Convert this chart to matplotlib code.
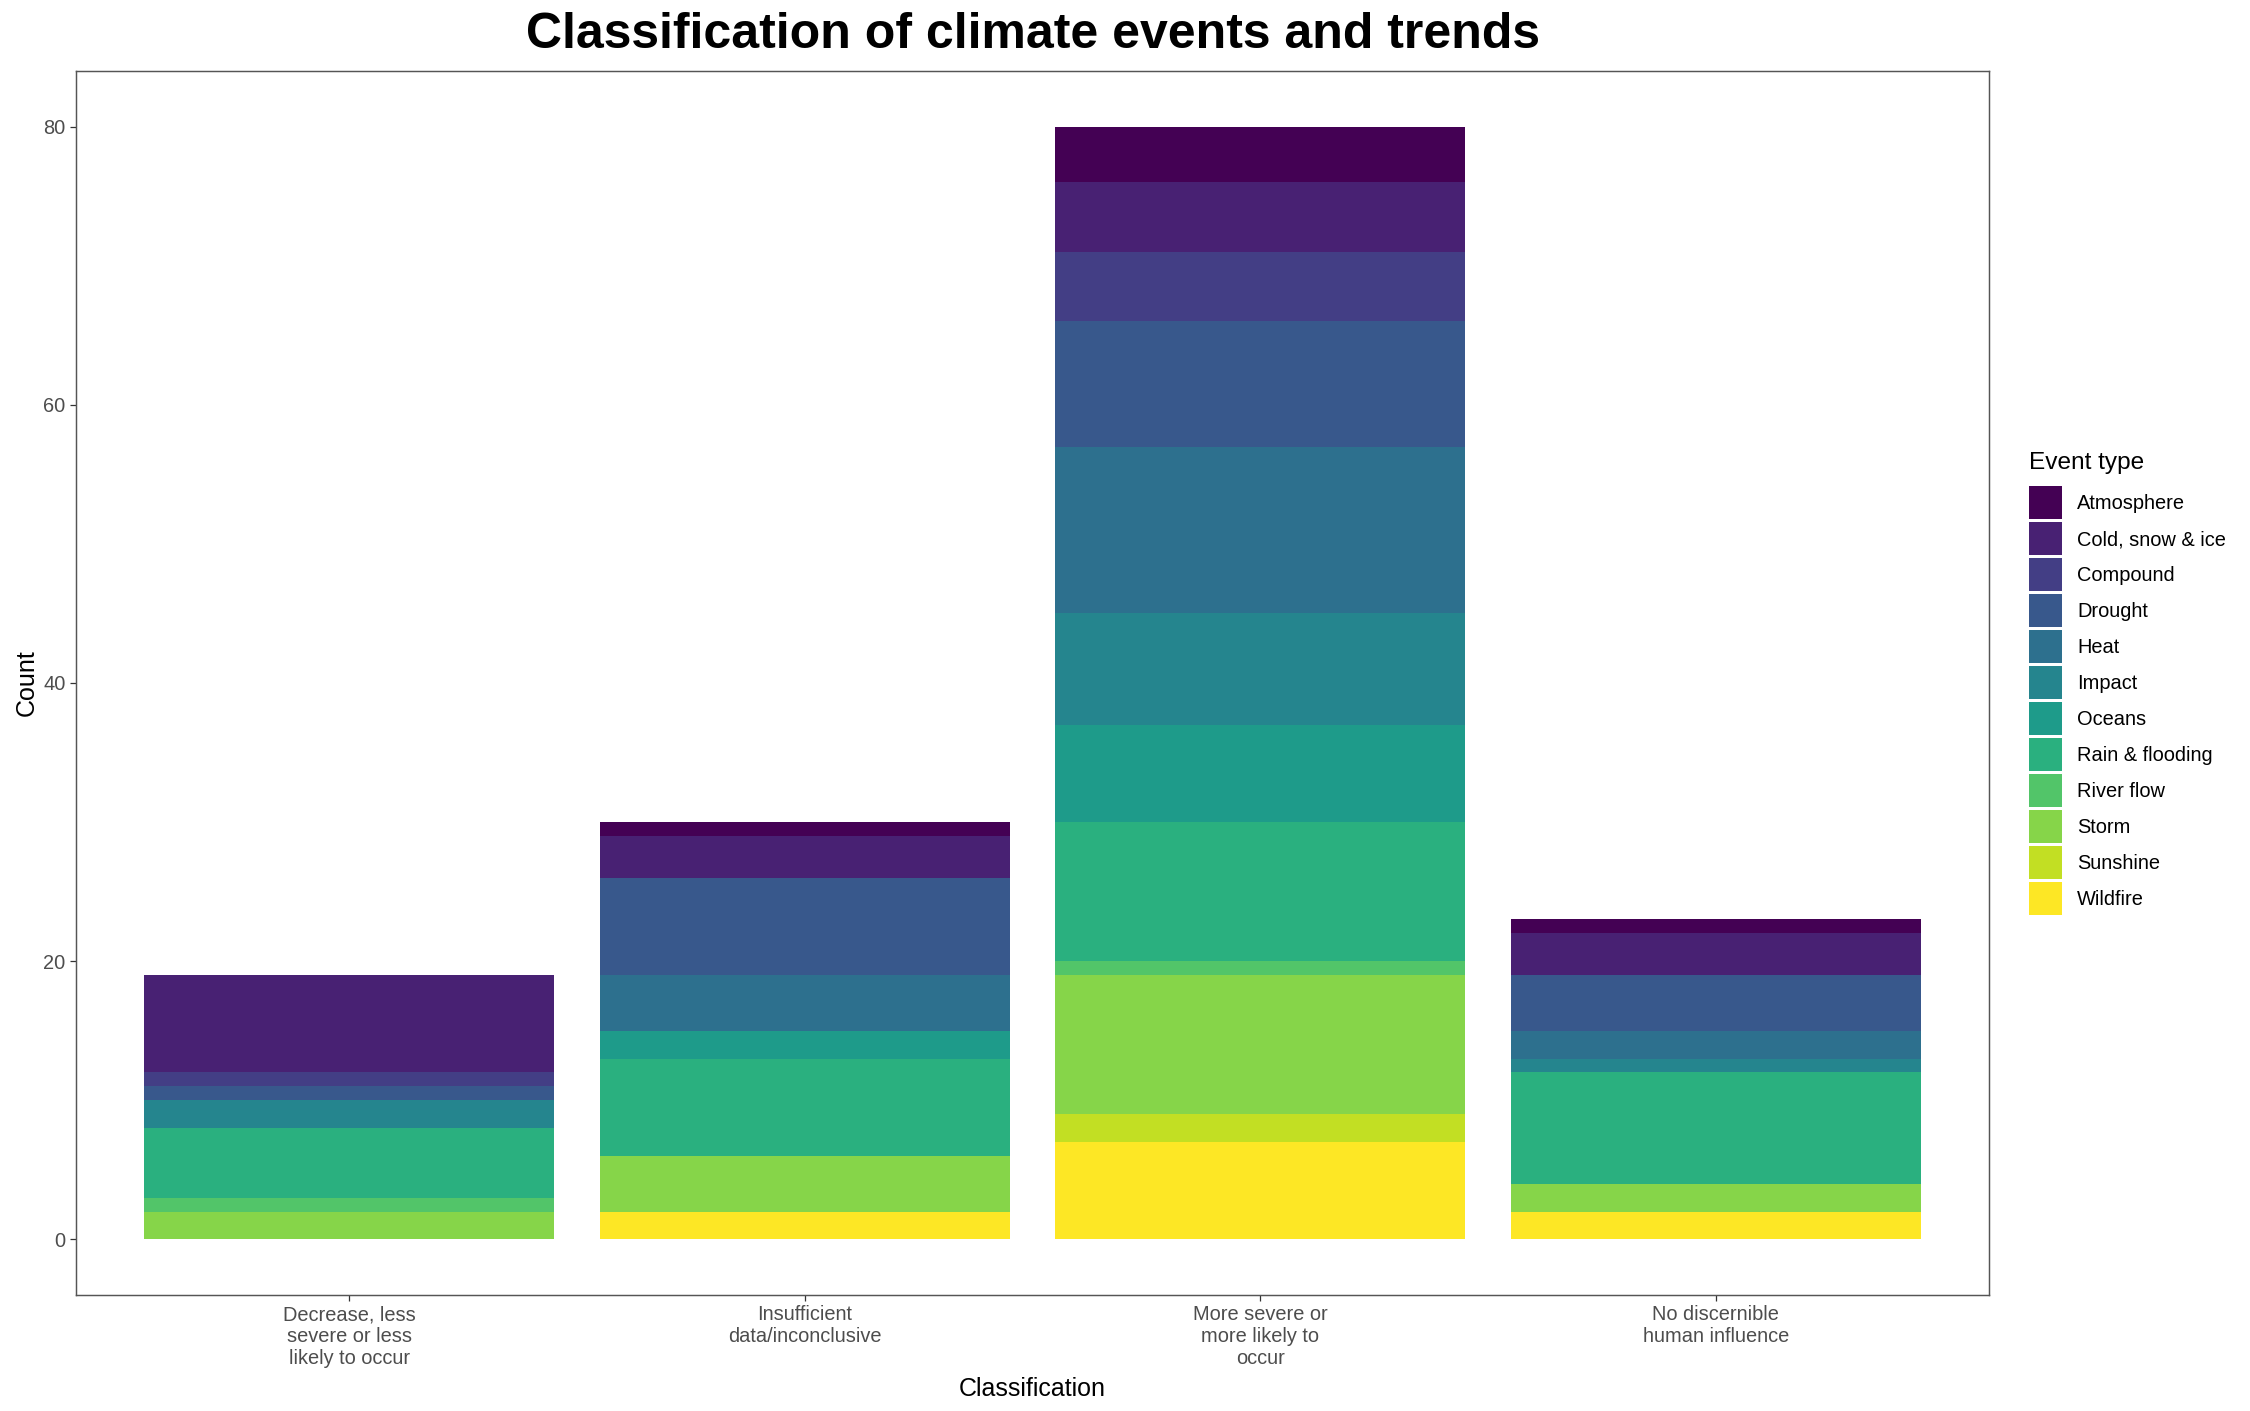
import numpy as np
import matplotlib
matplotlib.use('Agg')
import matplotlib.pyplot as plt
from matplotlib.patches import Patch

plt.rcParams['font.family'] = ['Liberation Sans', 'DejaVu Sans']

# Data
classifications = ['Decrease, less\nsevere or less\nlikely to occur',
                   'Insufficient\ndata/inconclusive',
                   'More severe or\nmore likely to\noccur',
                   'No discernible\nhuman influence']
event_types = ['Atmosphere', 'Cold, snow & ice', 'Compound', 'Drought', 'Heat',
               'Impact', 'Oceans', 'Rain & flooding', 'River flow', 'Storm',
               'Sunshine', 'Wildfire']

atmosphere = [0, 1, 4, 1]
cold_snow_ice = [7, 3, 5, 3]
compound = [1, 0, 5, 0]
drought = [1, 7, 9, 4]
heat = [0, 4, 12, 2]
impact = [2, 0, 8, 1]
oceans = [0, 2, 7, 0]
rain_flooding = [5, 7, 10, 8]
river_flow = [1, 0, 1, 0]
storm = [2, 4, 10, 2]
sunshine = [0, 0, 2, 0]
wildfire = [0, 2, 7, 2]

series = [atmosphere, cold_snow_ice, compound, drought, heat, impact,
          oceans, rain_flooding, river_flow, storm, sunshine, wildfire]

colors = plt.cm.viridis(np.linspace(0, 1, len(event_types)))

fig = plt.figure(figsize=(15, 1411 / 150), dpi=150)
ax = fig.add_axes([0.0338, 0.0822, 0.884 - 0.0338, 0.9497 - 0.0822])

x = np.arange(1, len(classifications) + 1)
bottom = np.zeros(len(classifications))
# ggplot stacks first level on top -> draw from last to first
for name, vals, col in reversed(list(zip(event_types, series, colors))):
    vals = np.array(vals, dtype=float)
    ax.bar(x, vals, width=0.9, bottom=bottom, color=col, linewidth=0)
    bottom += vals

ax.set_xlim(0.4, 4.6)
ax.set_ylim(-4, 84)
ax.set_yticks([0, 20, 40, 60, 80])
ax.set_xticks(x)
ax.set_xticklabels(classifications, fontsize=9.6, color='#4D4D4D',
                   linespacing=1.2)
ax.tick_params(axis='y', labelsize=9.6, labelcolor='#4D4D4D')
ax.tick_params(length=2.75, width=0.6, color='#333333', pad=2.2)

for s in ax.spines.values():
    s.set_color('#555555')
    s.set_linewidth(0.7)

ax.set_xlabel('Classification', fontsize=12, labelpad=4)
ax.set_ylabel('Count', fontsize=12, labelpad=2)
ax.set_title('Classification of climate events and trends', fontsize=24,
             fontweight='bold', pad=11)

handles = [Patch(facecolor=c, edgecolor='none') for c in colors]
leg = fig.legend(handles, event_types, loc='upper left',
                 bbox_to_anchor=(0.9018, 0.68), frameon=False,
                 fontsize=9.6, title='Event type', title_fontsize=11.7,
                 handlelength=1.65, handleheight=2.16, labelspacing=0.15,
                 handletextpad=0.75, borderpad=0, borderaxespad=0,
                 alignment='left')
leg._legend_box.sep = 6.2  # gap between legend title and keys (points)

fig.savefig('out.png', dpi=150)
